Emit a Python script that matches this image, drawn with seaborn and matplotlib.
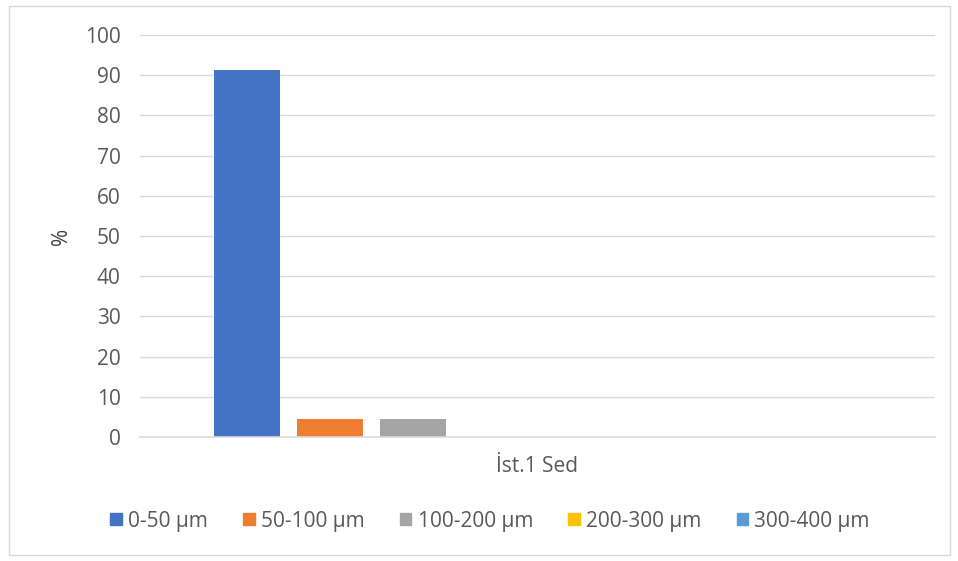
import matplotlib
matplotlib.use("Agg")
import matplotlib.pyplot as plt
import seaborn as sns
import pandas as pd
from matplotlib.patches import Rectangle

# data
category = ["İst.1 Sed"]
size_classes = ["0-50 µm", "50-100 µm", "100-200 µm", "200-300 µm", "300-400 µm",
                "s6", "s7", "s8"]  # last three are empty series in the source chart
percent = [91.2, 4.4, 4.4, 0.0, 0.0, 0.0, 0.0, 0.0]
colors = ["#4472C4", "#ED7D31", "#A5A5A5", "#FFC000", "#5B9BD5",
          "#70AD47", "#264478", "#9E480E"]
legend_n = 5

df = pd.DataFrame({"cat": category * len(size_classes),
                   "cls": size_classes,
                   "val": percent})

sns.set_style("white")
plt.rcParams["font.family"] = ["Open Sans", "DejaVu Sans"]
fs = 15

fig = plt.figure(figsize=(9.58, 5.61), dpi=100)
ax = fig.add_axes([140 / 958, 1 - 437 / 561, 795 / 958, 402 / 561])

sns.barplot(data=df, x="cat", y="val", hue="cls", hue_order=size_classes,
            palette=colors, width=0.835, gap=0.205, linewidth=0,
            saturation=1, ax=ax, legend=False)

ax.set_xlim(-0.5, 0.5)
ax.set_ylim(0, 100)
ax.set_yticks(range(0, 101, 10))
ax.yaxis.grid(True, color="#D9D9D9", linewidth=1)
ax.set_axisbelow(True)
for s in ["top", "right", "left"]:
    ax.spines[s].set_visible(False)
ax.spines["bottom"].set_color("#D9D9D9")
ax.spines["bottom"].set_linewidth(1.2)
ax.tick_params(axis="y", length=0, pad=14, labelsize=fs, labelcolor="#595959")
ax.tick_params(axis="x", length=0, pad=14, labelsize=fs, labelcolor="#595959")
ax.set_xlabel("")
ax.set_ylabel("%", fontsize=fs, color="#404040", labelpad=9)

handles = [Rectangle((0, 0), 1, 1, color=c) for c in colors[:legend_n]]
fig.legend(handles, size_classes[:legend_n], loc="center",
           bbox_to_anchor=(490 / 958, 1 - 521 / 561), ncol=legend_n,
           frameon=False, fontsize=fs, labelcolor="#595959",
           handlelength=0.55, handleheight=0.55, handletextpad=0.3,
           columnspacing=1.7)

fig.patches.append(Rectangle((9 / 958, 1 - 555 / 561), 941 / 958, 549 / 561,
                             transform=fig.transFigure, fill=False,
                             edgecolor="#D9D9D9", linewidth=1))

fig.savefig("out.png", dpi=100, facecolor="white")
